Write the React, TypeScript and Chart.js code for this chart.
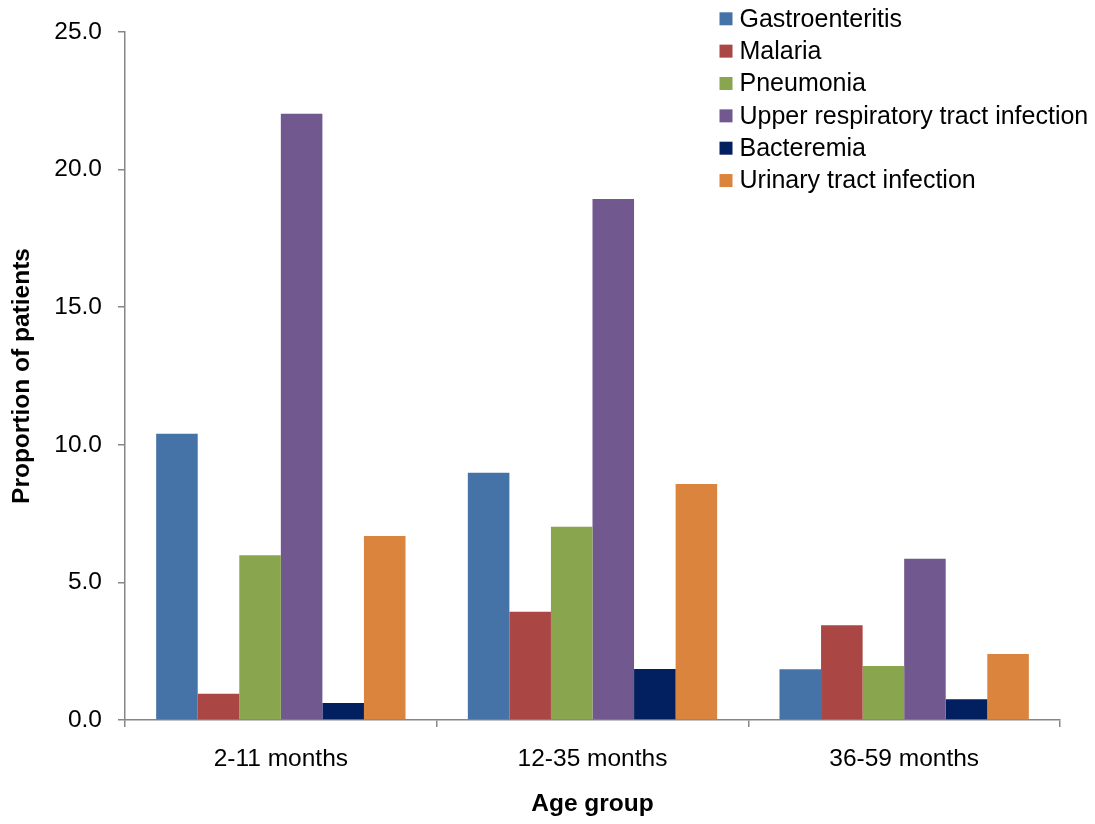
import React, { useEffect, useRef } from "react";
import { Chart, registerables } from "chart.js";

Chart.register(...registerables);

const categories = ["2-11 months", "12-35 months", "36-59 months"];
const seriesNames = [
  "Gastroenteritis",
  "Malaria",
  "Pneumonia",
  "Upper respiratory tract infection",
  "Bacteremia",
  "Urinary tract infection",
];
const gastroenteritis = [10.4, 8.98, 1.84];
const malaria = [0.95, 3.93, 3.44];
const pneumonia = [5.99, 7.02, 1.96];
const upperRespiratory = [22.03, 18.93, 5.86];
const bacteremia = [0.62, 1.85, 0.75];
const urinaryTract = [6.69, 8.58, 2.4];
const yTicks = [0, 5, 10, 15, 20, 25];

const colors = ["#4573A7", "#AA4643", "#89A54E", "#71588F", "#022060", "#DB843D"];
const FONT = "'Liberation Sans', Arial, Helvetica, sans-serif";
const AXIS_GRAY = "#868686";

const legendPlugin = {
  id: "customLegend",
  afterDraw(chart: any) {
    const ctx = chart.ctx;
    const x0 = 719.5;
    const y0 = 18.8;
    const step = 32.35;
    const box = 13;
    ctx.save();
    ctx.font = `25px ${FONT}`;
    ctx.textBaseline = "middle";
    ctx.textAlign = "left";
    chart.data.datasets.forEach((ds: any, i: number) => {
      const cy = y0 + i * step;
      ctx.fillStyle = ds.backgroundColor;
      ctx.fillRect(x0, cy - box / 2, box, box);
      ctx.fillStyle = "#000";
      ctx.fillText(ds.label, x0 + 20, cy + 1);
    });
    ctx.restore();
  },
};

export default function App() {
  const ref = useRef<HTMLCanvasElement>(null);

  useEffect(() => {
    if (!ref.current) return;
    const values = [gastroenteritis, malaria, pneumonia, upperRespiratory, bacteremia, urinaryTract];
    const chart = new Chart(ref.current, {
      type: "bar",
      data: {
        labels: categories,
        datasets: seriesNames.map((name, i) => ({
          label: name,
          data: values[i],
          backgroundColor: colors[i],
          borderWidth: 0,
          categoryPercentage: 0.8,
          barPercentage: 1.0,
        })),
      },
      options: {
        responsive: false,
        animation: false,
        devicePixelRatio: 1,
        layout: { padding: { top: 32, right: 35, left: 0, bottom: 0 } },
        plugins: {
          legend: { display: false },
          tooltip: { enabled: false },
        },
        scales: {
          x: {
            grid: {
              display: true,
              drawOnChartArea: false,
              drawTicks: true,
              tickLength: 7,
              color: AXIS_GRAY,
              lineWidth: 1.5,
              offset: true,
            },
            border: { display: true, color: AXIS_GRAY, width: 1.5 },
            ticks: {
              color: "#000",
              font: { family: FONT, size: 24.5 },
              padding: 18,
              maxRotation: 0,
            },
            title: {
              display: true,
              text: "Age group",
              color: "#000",
              font: { family: FONT, size: 24.5, weight: "bold" },
              padding: { top: 0, bottom: 5 },
            },
            afterFit(scale: any) {
              scale.height = 104;
            },
          },
          y: {
            min: 0,
            max: 25,
            afterBuildTicks(scale: any) {
              scale.ticks = yTicks.map((v) => ({ value: v }));
            },
            grid: {
              display: true,
              drawOnChartArea: false,
              drawTicks: true,
              tickLength: 7,
              color: AXIS_GRAY,
              lineWidth: 1.5,
            },
            border: { display: true, color: AXIS_GRAY, width: 1.5 },
            ticks: {
              color: "#000",
              font: { family: FONT, size: 24.5 },
              padding: 16,
              callback: (v: any) => Number(v).toFixed(1),
            },
            title: {
              display: true,
              text: "Proportion of patients",
              color: "#000",
              font: { family: FONT, size: 24.5, weight: "bold" },
              padding: { top: 8, bottom: 0 },
            },
            afterFit(scale: any) {
              scale.width = 125;
            },
          },
        },
      },
      plugins: [legendPlugin],
    });
    return () => chart.destroy();
  }, []);

  return (
    <div style={{ position: "absolute", left: 0, top: 0, width: 1095, height: 824, background: "#fff" }}>
      <canvas ref={ref} width={1095} height={824} style={{ display: "block" }} />
    </div>
  );
}
